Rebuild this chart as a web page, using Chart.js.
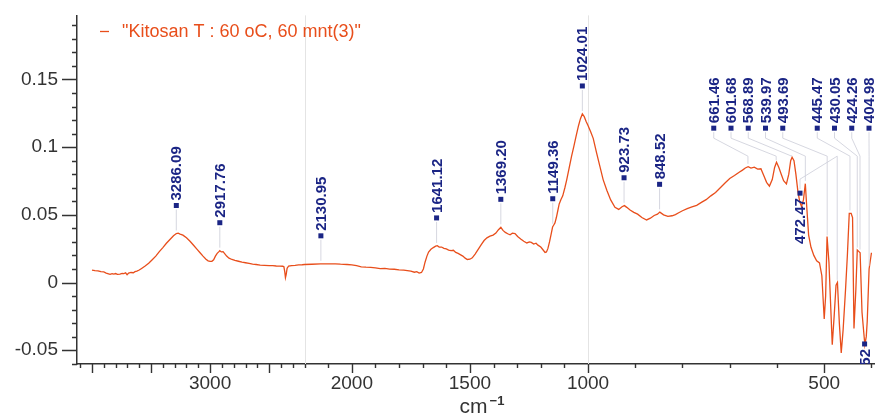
<!DOCTYPE html>
<html>
<head>
<meta charset="utf-8">
<script src="https://cdn.jsdelivr.net/npm/chart.js@4.4.0/dist/chart.umd.min.js"></script>
<style>
  html, body { margin: 0; padding: 0; background: #fff; }
</style>
</head>
<body>
<canvas id="grafico" width="875" height="415"></canvas>
<script>
// espectro FTIR (numero de onda em cm-1, absorbancia)
const numerosDeOnda = [
  4000, 3975, 3950, 3925, 3900, 3880, 3860, 3847, 3830, 3815, 3800, 3785, 3763, 3745, 3730, 3715, 3703, 3690, 3670, 3650,
  3636, 3620, 3600, 3580, 3550, 3520, 3490, 3460, 3430, 3400, 3370, 3340, 3310, 3286, 3270, 3254, 3230, 3200, 3170, 3140,
  3110, 3085, 3060, 3035, 3017, 3000, 2985, 2970, 2955, 2940, 2925, 2918, 2905, 2890, 2875, 2860, 2840, 2815, 2790, 2760,
  2730, 2700, 2670, 2640, 2610, 2576, 2540, 2500, 2470, 2440, 2410, 2385, 2375, 2368, 2362, 2356, 2348, 2335, 2310, 2280,
  2250, 2220, 2200, 2170, 2132, 2100, 2070, 2048, 2020, 2000, 1980, 1960, 1940, 1920, 1900, 1880, 1860, 1840, 1820, 1800,
  1780, 1765, 1750, 1735, 1725, 1715, 1705, 1697, 1690, 1682, 1675, 1665, 1655, 1645, 1638, 1630, 1620, 1610, 1600, 1590,
  1580, 1570, 1560, 1550, 1541, 1530, 1520, 1511, 1500, 1490, 1478, 1465, 1452, 1440, 1428, 1415, 1402, 1390, 1380, 1369,
  1360, 1350, 1340, 1330, 1320, 1309, 1298, 1285, 1272, 1259, 1248, 1240, 1230, 1220, 1212, 1200, 1190, 1182, 1176, 1170,
  1163, 1157, 1150, 1145, 1140, 1134, 1128, 1122, 1115, 1107, 1098, 1090, 1080, 1070, 1060, 1050, 1040, 1032, 1024, 1016,
  1008, 1000, 994, 989, 982, 975, 968, 960, 952, 943, 935, 928, 923, 918, 911, 903, 895, 886, 876, 868,
  860, 853, 848, 840, 831, 822, 815, 808, 800, 790, 780, 770, 760, 750, 740, 730, 720, 710, 700, 690,
  680, 673, 667, 661, 655, 648, 641, 634, 628, 622, 616, 610, 605, 601, 596, 591, 586, 580, 575, 571,
  568, 564, 560, 556, 552, 548, 544, 540, 537, 533, 528, 522, 516, 510, 505, 500, 497, 494, 490, 486,
  483, 479, 475, 472, 468, 464, 460, 455, 451, 447, 443, 440, 437, 433, 430, 427, 424, 420, 416, 414,
  411, 409, 405, 400
];
const absorbancia = [
  0.0092, 0.0088, 0.0086, 0.0080, 0.0078, 0.0070, 0.0064, 0.0060, 0.0066, 0.0062, 0.0066, 0.0060, 0.0062, 0.0068, 0.0066, 0.0072, 0.0057, 0.0070, 0.0074, 0.0072,
  0.0080, 0.0084, 0.0092, 0.0104, 0.0122, 0.0142, 0.0168, 0.0195, 0.0228, 0.0258, 0.0290, 0.0318, 0.0345, 0.0362, 0.0364, 0.0358, 0.0350, 0.0330, 0.0305, 0.0275,
  0.0245, 0.0220, 0.0195, 0.0172, 0.0160, 0.0156, 0.0157, 0.0168, 0.0195, 0.0215, 0.0228, 0.0235, 0.0226, 0.0228, 0.0212, 0.0195, 0.0180, 0.0170, 0.0163, 0.0157,
  0.0150, 0.0146, 0.0142, 0.0136, 0.0133, 0.0128, 0.0127, 0.0124, 0.0125, 0.0122, 0.0121, 0.0120, 0.0116, 0.0080, 0.0035, 0.0058, 0.0105, 0.0122, 0.0125, 0.0127,
  0.0130, 0.0131, 0.0133, 0.0135, 0.0138, 0.0137, 0.0138, 0.0135, 0.0133, 0.0130, 0.0124, 0.0116, 0.0113, 0.0112, 0.0108, 0.0103, 0.0104, 0.0099, 0.0098, 0.0094,
  0.0092, 0.0088, 0.0084, 0.0076, 0.0080, 0.0070, 0.0074, 0.0100, 0.0150, 0.0195, 0.0225, 0.0245, 0.0258, 0.0268, 0.0272, 0.0262, 0.0262, 0.0252, 0.0248, 0.0240,
  0.0236, 0.0238, 0.0222, 0.0215, 0.0206, 0.0195, 0.0180, 0.0170, 0.0172, 0.0182, 0.0210, 0.0245, 0.0280, 0.0310, 0.0330, 0.0342, 0.0350, 0.0365, 0.0388, 0.0408,
  0.0385, 0.0370, 0.0360, 0.0352, 0.0364, 0.0362, 0.0340, 0.0322, 0.0305, 0.0292, 0.0300, 0.0296, 0.0284, 0.0290, 0.0276, 0.0262, 0.0240, 0.0222, 0.0226, 0.0250,
  0.0300, 0.0350, 0.0410, 0.0425, 0.0440, 0.0480, 0.0530, 0.0580, 0.0612, 0.0640, 0.0700, 0.0760, 0.0845, 0.0930, 0.1005, 0.1085, 0.1160, 0.1210, 0.1245, 0.1225,
  0.1190, 0.1160, 0.1110, 0.1065, 0.0960, 0.0860, 0.0760, 0.0680, 0.0610, 0.0555, 0.0540, 0.0560, 0.0568, 0.0555, 0.0535, 0.0518, 0.0505, 0.0480, 0.0462, 0.0475,
  0.0495, 0.0505, 0.0520, 0.0500, 0.0488, 0.0493, 0.0502, 0.0515, 0.0530, 0.0545, 0.0558, 0.0570, 0.0592, 0.0612, 0.0640, 0.0665, 0.0700, 0.0735, 0.0768, 0.0790,
  0.0815, 0.0830, 0.0846, 0.0855, 0.0845, 0.0852, 0.0838, 0.0840, 0.0790, 0.0740, 0.0712, 0.0760, 0.0850, 0.0888, 0.0850, 0.0800, 0.0752, 0.0728, 0.0800, 0.0900,
  0.0925, 0.0900, 0.0800, 0.0680, 0.0600, 0.0560, 0.0610, 0.0730, 0.0560, 0.0350, 0.0260, 0.0200, 0.0160, 0.0145, 0.0050, -0.0270, -0.0100, 0.0340, 0.0150, -0.0200,
  -0.0460, -0.0250, -0.0020, 0.0000, -0.0300, -0.0520, -0.0350, -0.0060, 0.0200, 0.0510, 0.0510, 0.0480, -0.0340, -0.0050, 0.0240, 0.0230, 0.0220, -0.0220, -0.0380, -0.0460,
  -0.0400, -0.0290, 0.0100, 0.0220
];
const picosMarcados = [3286.09, 2917.76, 2130.95, 1641.12, 1369.20, 1149.36, 1024.01, 923.73, 848.52,
  661.46, 601.68, 568.89, 539.97, 493.69, 472.47, 445.47, 430.05, 424.26, 404.98, 414.52];
const rotulosX = [3000, 2000, 1500, 1000, 500];
const rotulosY = [-0.05, 0, 0.05, 0.1, 0.15];
const nomeSerie = '"Kitosan T : 60 oC, 60 mnt(3)"';

// onde cada rotulo de pico fica (acima do pico, numa fila no topo, ou texto para baixo)
const posRotulos = [
  { tipo: 'acima' }, { tipo: 'acima' }, { tipo: 'acima' }, { tipo: 'acima' }, { tipo: 'acima' },
  { tipo: 'acima' }, { tipo: 'acima' }, { tipo: 'acima' }, { tipo: 'acima' },
  { tipo: 'fila', vaga: 0 }, { tipo: 'fila', vaga: 1 }, { tipo: 'fila', vaga: 2 }, { tipo: 'fila', vaga: 3 },
  { tipo: 'fila', vaga: 4 }, { tipo: 'baixo', vaga: 5, nivel: 0.066 },
  { tipo: 'fila', vaga: 6 }, { tipo: 'fila', vaga: 7 }, { tipo: 'fila', vaga: 8 }, { tipo: 'fila', vaga: 9 },
  { tipo: 'baixo' }
];
const nivelFila = 0.114;

const fonte = '"Liberation Sans", Arial, sans-serif';
const corLinha = '#e84e1b';
const corRotulo = '#1b2585';

// eixo x quebrado: escala 1x acima de 2200, 2x entre 2200 e 1000, 4x abaixo de 1000
const xInicio = 4127, xFim = 392.5;
function paraU(wn) {
  if (wn >= 2200) return 4200 - wn;
  if (wn >= 1000) return 2000 + 2 * (2200 - wn);
  return 4400 + 4 * (1000 - wn);
}
function deU(u) {
  if (u <= 2000) return 4200 - u;
  if (u <= 4400) return 2200 - (u - 2000) / 2;
  return 1000 - (u - 4400) / 4;
}

class EscalaQuebrada extends Chart.LinearScale {
  determineDataLimits() {
    this.min = paraU(xInicio);
    this.max = paraU(xFim);
  }
  buildTicks() {
    const ticks = [];
    for (let wn = 4100; wn >= 400; wn -= 100) ticks.push({ value: wn });
    return ticks;
  }
  getPixelForValue(v) {
    return super.getPixelForValue(paraU(v));
  }
  getValueForPixel(p) {
    return deU(super.getValueForPixel(p));
  }
}
EscalaQuebrada.id = 'quebrada';
EscalaQuebrada.defaults = Chart.LinearScale.defaults;
Chart.register(EscalaQuebrada);

function valorEm(wn) {
  for (let i = 0; i < numerosDeOnda.length - 1; i++) {
    const a = numerosDeOnda[i], b = numerosDeOnda[i + 1];
    if (wn <= a && wn >= b) {
      const t = (a - wn) / (a - b);
      return absorbancia[i] + t * (absorbancia[i + 1] - absorbancia[i]);
    }
  }
  return absorbancia[absorbancia.length - 1];
}

const extras = {
  id: 'extras',
  beforeDatasetsDraw(chart) {
    const { ctx, chartArea } = chart;
    const x = chart.scales.x;
    ctx.save();
    ctx.strokeStyle = '#e4e4e4';
    ctx.lineWidth = 1;
    [2200, 1000].forEach(wn => {
      const px = Math.round(x.getPixelForValue(wn)) + 0.5;
      ctx.beginPath();
      ctx.moveTo(px, chartArea.top);
      ctx.lineTo(px, chartArea.bottom);
      ctx.stroke();
    });
    ctx.restore();
  },
  afterDatasetsDraw(chart) {
    const { ctx, chartArea } = chart;
    const x = chart.scales.x, y = chart.scales.y;
    ctx.save();
    ctx.beginPath();
    ctx.rect(chartArea.left, chartArea.top, chartArea.width, chartArea.height);
    ctx.clip();

    picosMarcados.forEach((wn, i) => {
      const pos = posRotulos[i];
      const px = x.getPixelForValue(wn);
      const py = y.getPixelForValue(valorEm(wn));
      const yFila = y.getPixelForValue(nivelFila);
      let lx = px, ly;
      if (pos.vaga !== undefined) lx = chartArea.right - 6 - 17.25 * (9 - pos.vaga);
      if (pos.tipo === 'acima') ly = py - 28;
      else if (pos.tipo === 'fila') ly = yFila;
      else ly = pos.nivel !== undefined ? y.getPixelForValue(pos.nivel) : py + 2;

      // linha de chamada
      ctx.strokeStyle = '#cbcdd8';
      ctx.lineWidth = 0.8;
      ctx.beginPath();
      if (pos.tipo === 'acima') {
        ctx.moveTo(lx, ly + 4);
        ctx.lineTo(px, py - 3);
      } else if (pos.tipo === 'fila') {
        ctx.moveTo(lx, ly + 4);
        ctx.lineTo(lx, ly + 10);
        ctx.lineTo(px, yFila + 28);
        ctx.lineTo(px, py - 3);
      } else if (pos.nivel !== undefined) {
        ctx.moveTo(lx, ly - 4);
        ctx.lineTo(lx, ly - 14);
        ctx.lineTo(px, yFila + 28);
        ctx.lineTo(px, py - 3);
      }
      ctx.stroke();

      ctx.save();
      ctx.translate(lx, ly);
      ctx.rotate(-Math.PI / 2);
      ctx.fillStyle = corRotulo;
      ctx.fillRect(-2.5, -2.5, 5, 5);
      ctx.font = 'bold 15px ' + fonte;
      ctx.textBaseline = 'middle';
      if (pos.tipo === 'baixo') {
        ctx.textAlign = 'right';
        ctx.fillText(wn.toFixed(2), -5, 1);
      } else {
        ctx.textAlign = 'left';
        ctx.fillText(wn.toFixed(2), 5, 1);
      }
      ctx.restore();
    });
    ctx.restore();

    // legenda
    const ds = chart.data.datasets[0];
    ctx.save();
    ctx.strokeStyle = corLinha;
    ctx.lineWidth = 1.3;
    ctx.beginPath();
    ctx.moveTo(chartArea.left + 23, 31.5);
    ctx.lineTo(chartArea.left + 32, 31.5);
    ctx.stroke();
    ctx.fillStyle = corLinha;
    ctx.font = '18px ' + fonte;
    ctx.textAlign = 'left';
    ctx.textBaseline = 'middle';
    ctx.fillText(ds.label, chartArea.left + 45, 32);
    ctx.restore();
  },
  afterDraw(chart) {
    const { ctx } = chart;
    const x = chart.scales.x, y = chart.scales.y;
    ctx.save();
    ctx.strokeStyle = '#333';
    ctx.lineWidth = 1.4;
    ctx.beginPath();
    x.ticks.forEach((t, i) => {
      const px = Math.round(x.getPixelForTick(i)) + 0.5;
      const len = t.value % 500 === 0 ? 9 : 4;
      ctx.moveTo(px, x.top);
      ctx.lineTo(px, x.top + len);
    });
    y.ticks.forEach((t, i) => {
      const py = Math.round(y.getPixelForTick(i)) + 0.5;
      const maior = Math.abs(t.value * 20 - Math.round(t.value * 20)) < 1e-6;
      const len = maior ? 15 : 5;
      ctx.moveTo(y.right - len, py);
      ctx.lineTo(y.right, py);
    });
    ctx.stroke();

    // titulo do eixo x: cm^-1
    const cx = x.left + x.width / 2 + 6;
    ctx.fillStyle = '#333';
    ctx.textBaseline = 'alphabetic';
    ctx.font = '21px ' + fonte;
    const w1 = ctx.measureText('cm').width;
    ctx.font = 'bold 13px ' + fonte;
    const w2 = ctx.measureText('\u22121').width;
    const x0 = cx - (w1 + w2 + 2) / 2;
    ctx.font = '21px ' + fonte;
    ctx.textAlign = 'left';
    ctx.fillText('cm', x0, 413);
    ctx.font = 'bold 13px ' + fonte;
    ctx.fillText('\u22121', x0 + w1 + 2, 405);
    ctx.restore();
  }
};

const ctx = document.getElementById('grafico');

const grafico = new Chart(ctx, {
  type: 'line',
  data: {
    datasets: [{
      label: nomeSerie,
      data: numerosDeOnda.map((wn, i) => ({ x: wn, y: absorbancia[i] })),
      borderColor: corLinha,
      borderWidth: 1.3,
      pointRadius: 0,
      tension: 0,
      fill: false
    }]
  },
  options: {
    responsive: false,
    animation: false,
    devicePixelRatio: 1,
    layout: { padding: { top: 10, right: 0, left: 0, bottom: 0 } },
    plugins: {
      legend: { display: false },
      tooltip: { enabled: false }
    },
    scales: {
      x: {
        type: 'quebrada',
        position: 'bottom',
        grid: { display: false, drawTicks: true, tickLength: 6 },
        border: { display: true, color: '#333', width: 1.5 },
        ticks: {
          autoSkip: false,
          maxRotation: 0,
          padding: 2,
          color: '#333',
          font: { size: 19, family: fonte },
          callback: v => rotulosX.includes(v) ? String(v) : ''
        },
        afterFit: s => { s.height = 51; }
      },
      y: {
        type: 'linear',
        min: -0.0602,
        max: 0.1973,
        grid: { display: false, drawTicks: true, tickLength: 15 },
        border: { display: true, color: '#333', width: 1.5 },
        afterBuildTicks: s => {
          s.ticks = [];
          for (let k = -6; k <= 19; k++) s.ticks.push({ value: k / 100 });
        },
        ticks: {
          autoSkip: false,
          padding: 4,
          color: '#333',
          font: { size: 19, family: fonte },
          callback: v => {
            const r = Math.round(v * 100) / 100;
            return rotulosY.some(l => Math.abs(l - r) < 1e-9) ? String(r) : '';
          }
        },
        afterFit: s => { s.width = 77; }
      }
    }
  },
  plugins: [extras]
});
</script>
</body>
</html>
